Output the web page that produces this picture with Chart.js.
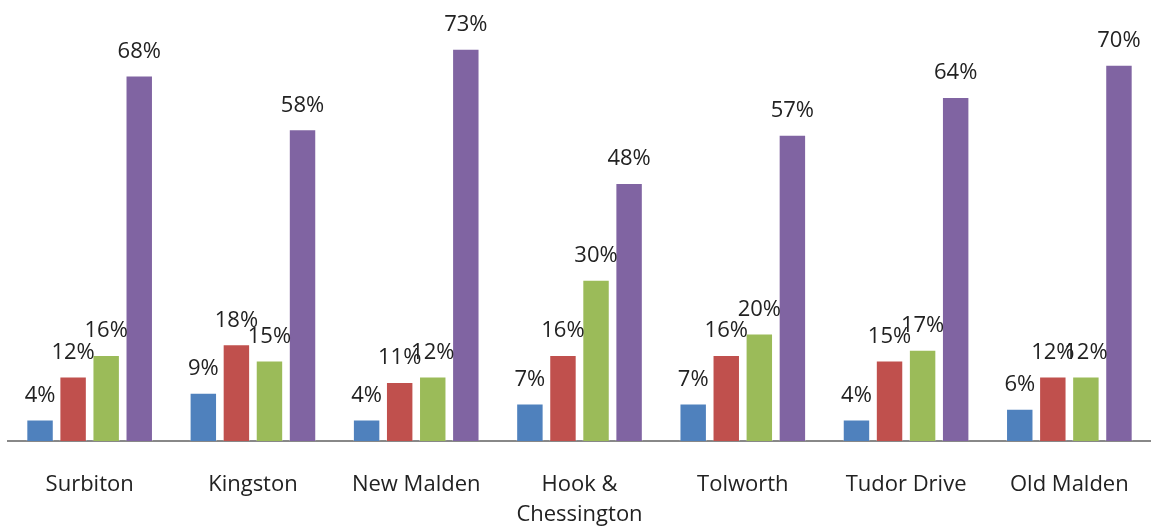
<!DOCTYPE html>
<html>
<head>
<meta charset="utf-8">
<script src="https://cdn.jsdelivr.net/npm/chart.js@4"></script>
<style>
  html, body { margin: 0; padding: 0; background: #fff; }
  #wrap { width: 1151px; height: 532px; }
</style>
</head>
<body>
<div id="wrap"><canvas id="areaChart"></canvas></div>
<script>
const areas = ['Surbiton', 'Kingston', 'New Malden', ['Hook &', 'Chessington'], 'Tolworth', 'Tudor Drive', 'Old Malden'];
const series1 = [4, 9, 4, 7, 7, 4, 6];
const series2 = [12, 18, 11, 16, 16, 15, 12];
const series3 = [16, 15, 12, 30, 20, 17, 12];
const series4 = [68, 58, 73, 48, 57, 64, 70];
const colours = ['#4F81BD', '#C0504D', '#9BBB59', '#8064A2'];

const FONT = "'Open Sans', 'Liberation Sans', sans-serif";

// draws the % label above each bar
const barLabels = {
    id: 'barLabels',
    afterDatasetsDraw(chart) {
        const ctx = chart.ctx;
        ctx.save();
        ctx.font = '22px ' + FONT;
        ctx.fillStyle = '#222';
        ctx.textAlign = 'center';
        ctx.textBaseline = 'bottom';
        chart.data.datasets.forEach(function (ds, i) {
            chart.getDatasetMeta(i).data.forEach(function (bar, j) {
                ctx.fillText(ds.data[j] + '%', bar.x, bar.y - 13);
            });
        });
        ctx.restore();
    }
};

const ctx = document.getElementById('areaChart').getContext('2d');
new Chart(ctx, {
    type: 'bar',
    data: {
        labels: areas,
        datasets: [series1, series2, series3, series4].map(function (d, i) {
            return {
                data: d,
                backgroundColor: colours[i],
                borderColor: 'rgba(255,255,255,0.3)',
                borderWidth: 1,
                categoryPercentage: 0.81,
                barPercentage: 0.83
            };
        })
    },
    options: {
        responsive: true,
        maintainAspectRatio: false,
        animation: false,
        layout: { padding: { top: 11, left: 8, right: 0, bottom: 0 } },
        plugins: {
            legend: { display: false },
            tooltip: { enabled: false }
        },
        scales: {
            y: { display: false, min: 0, max: 80 },
            x: {
                grid: { display: false },
                border: { color: '#888', width: 2 },
                ticks: {
                    color: '#222',
                    padding: 21,
                    maxRotation: 0,
                    font: { family: FONT, size: 22, lineHeight: 1.36 }
                },
                afterFit: function (scale) { scale.height = 91; }
            }
        }
    },
    plugins: [barLabels]
});
</script>
</body>
</html>
